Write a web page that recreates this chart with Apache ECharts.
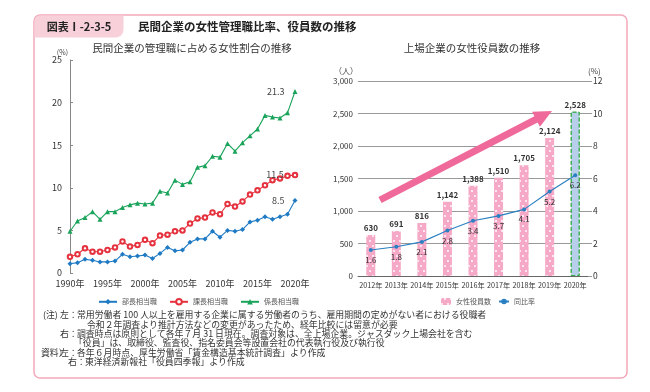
<!DOCTYPE html>
<html><head><meta charset="utf-8">
<script src="https://cdn.jsdelivr.net/npm/echarts@6/dist/echarts.min.js"></script>
<style>html,body{margin:0;padding:0;background:#fff}#c{width:650px;height:392px}</style>
</head><body><div id="c"></div>
<script>
const years = [];
for (let y = 1990; y <= 2020; y++) years.push(y + '年');
const bucho = [1.1,1.2,1.6,1.5,1.3,1.3,1.4,2.2,1.9,2.0,2.1,1.7,2.3,3.0,2.6,2.7,3.6,4.0,4.0,4.9,4.2,5.0,4.9,5.1,6.0,6.2,6.6,6.3,6.6,6.9,8.5];
const kacho = [1.9,2.2,2.9,2.5,2.5,2.7,3.0,3.7,3.1,3.3,3.9,3.5,4.4,4.5,4.9,5.0,5.8,6.4,6.5,7.1,6.9,8.1,7.8,8.4,9.2,9.7,10.3,10.9,11.1,11.4,11.5];
const kakaricho = [4.9,6.1,6.5,7.2,6.3,7.2,7.2,7.7,8.0,8.2,8.1,8.2,9.6,9.4,10.9,10.4,10.7,12.4,12.6,13.7,13.6,15.2,14.3,15.3,16.1,16.9,18.5,18.3,18.2,18.8,21.3];
const rYears = ['2012年','2013年','2014年','2015年','2016年','2017年','2018年','2019年','2020年'];
const yakuin = [630,691,816,1142,1388,1510,1705,2124,2528];
const hiritsu = [1.6,1.8,2.1,2.8,3.4,3.7,4.1,5.2,6.2];
const noteHead = ['(注)', '', '', '', '資料）', ''];
const noteSide = ['左：', '', '右：', '', '左：', '右：'];
const noteBody = [
  '常用労働者 100 人以上を雇用する企業に属する労働者のうち、雇用期間の定めがない者における役職者',
  '令和２年調査より推計方法などの変更があったため、経年比較には留意が必要',
  '調査時点は原則として各年７月 31 日現在。調査対象は、全上場企業。ジャスダック上場会社を含む',
  '「役員」は、取締役、監査役、指名委員会等設置会社の代表執行役及び執行役',
  '各年６月時点、厚生労働省「賃金構造基本統計調査」より作成',
  '東洋経済新報社「役員四季報」より作成'
];

const JP = '"Noto Sans CJK JP", "Noto Sans", sans-serif';
const NUM = '"Noto Sans CJK JP", sans-serif';
const fmt = v => String(v).replace(/\B(?=(\d{3})+(?!\d))/g, ',');
const lastOnly = (n) => p => p.dataIndex === n - 1 ? String(p.value) : '';

// arrow geometry (decoration)
function arrow(x1, y1, x2, y2, w, hw, hl) {
  const dx = x2 - x1, dy = y2 - y1, L = Math.hypot(dx, dy);
  const ux = dx / L, uy = dy / L, nx = -uy, ny = ux;
  const bx = x2 - ux * hl, by = y2 - uy * hl;
  return [
    [x1 + nx * w / 2, y1 + ny * w / 2], [bx + nx * w / 2, by + ny * w / 2],
    [bx + nx * hw / 2, by + ny * hw / 2], [x2, y2],
    [bx - nx * hw / 2, by - ny * hw / 2], [bx - nx * w / 2, by - ny * w / 2],
    [x1 - nx * w / 2, y1 - ny * w / 2]
  ];
}

const graphics = [
  {type:'rect', shape:{x:34, y:15, width:593, height:363, r:6}, style:{fill:'none', stroke:'#f3a9ba', lineWidth:1.5}, z:-1},
  {type:'rect', shape:{x:34.5, y:15.5, width:89, height:22, r:[5,0,8,0]}, style:{fill:'#f8d0da'}},
  {type:'text', x:79, y:27, style:{text:'図表Ⅰ-2-3-5', font:'bold 11px ' + JP, fill:'#222', textAlign:'center', textVerticalAlign:'middle'}},
  {type:'text', x:138, y:27, style:{text:'民間企業の女性管理職比率、役員数の推移', font:'bold 11.5px ' + JP, fill:'#222', textVerticalAlign:'middle'}},
  {type:'text', x:192, y:48, style:{text:'民間企業の管理職に占める女性割合の推移', font:'10.5px ' + JP, fill:'#333', textAlign:'center', textVerticalAlign:'middle'}},
  {type:'text', x:472, y:48, style:{text:'上場企業の女性役員数の推移', font:'10.5px ' + JP, fill:'#333', textAlign:'center', textVerticalAlign:'middle'}},
  {type:'polygon', shape:{points: arrow(380, 200, 552, 111, 7, 17, 18)}, style:{fill:'#ef6a9a'}, z:10}
];
const headX = [43, 0, 0, 0, 41, 0];
const sideX = [60, 0, 60, 0, 60, 68];
const bodyX = [77, 87, 77, 74, 77, 85];
const noteFont = '8.9px ' + JP;
noteBody.forEach((t, i) => {
  const y = 315 + i * 9.3;
  if (noteHead[i]) graphics.push({type:'text', x:headX[i], y:y, style:{text:noteHead[i], font:noteFont, fill:'#333', textVerticalAlign:'middle'}});
  if (noteSide[i]) graphics.push({type:'text', x:sideX[i], y:y, style:{text:noteSide[i], font:noteFont, fill:'#333', textVerticalAlign:'middle'}});
  graphics.push({type:'text', x:bodyX[i], y:y, style:{text:t, font:noteFont, fill:'#333', textVerticalAlign:'middle'}});
});

const noDecal = {symbol:'rect', symbolSize:0, color:'rgba(0,0,0,0)'};
const legText = {fontSize:7, color:'#555', fontFamily:JP};

const chart = echarts.init(document.getElementById('c'));
chart.setOption({
  animation:false,
  textStyle:{fontFamily:JP},
  graphic: graphics,
  legend:[
    {data:['部長相当職','課長相当職','係長相当職'], left:93, top:293, itemWidth:18, itemHeight:7, itemGap:12, textStyle:legText},
    {data:['女性役員数','同比率'], left:436, top:293, itemWidth:10, itemHeight:7, itemGap:7, textStyle:legText}
  ],
  grid:[
    {left:70, right:355, top:60, bottom:119},
    {left:358, right:62, top:81, bottom:116}
  ],
  xAxis:[
    {gridIndex:0, type:'category', data:years, boundaryGap:false,
     axisLine:{show:false}, axisTick:{show:false},
     axisLabel:{interval:4, fontSize:9, color:'#333', margin:6, fontFamily:JP}},
    {gridIndex:1, type:'category', data:rYears,
     axisLine:{show:true, lineStyle:{color:'#666'}}, axisTick:{show:false},
     axisLabel:{interval:0, fontSize:7.2, color:'#333', margin:6, fontFamily:NUM}}
  ],
  yAxis:[
    {gridIndex:0, type:'value', min:0, max:25, interval:5, name:'(%)', nameGap:4,
     nameTextStyle:{fontSize:7, color:'#444', align:'right', padding:[0,2,0,0]},
     axisLine:{show:true, lineStyle:{color:'#888'}}, axisTick:{show:true, inside:true, length:3, lineStyle:{color:'#888'}},
     splitLine:{show:false}, axisLabel:{fontSize:9, color:'#333', margin:8, fontFamily:NUM}},
    {gridIndex:1, type:'value', min:0, max:3000, interval:500, name:'（人）', nameGap:6,
     nameTextStyle:{fontSize:8, color:'#444', align:'right', padding:[0,0,0,0]},
     axisLine:{show:false}, axisTick:{show:false},
     splitLine:{show:true, lineStyle:{color:'#999', width:1}},
     axisLabel:{fontSize:8, color:'#333', margin:5, fontFamily:NUM, formatter:v => fmt(v)}},
    {gridIndex:1, type:'value', min:0, max:12, interval:2, name:'(%)', nameGap:6, position:'right',
     nameTextStyle:{fontSize:8, color:'#444', align:'left'},
     axisLine:{show:false}, axisTick:{show:true, length:4, lineStyle:{color:'#999'}},
     splitLine:{show:false},
     axisLabel:{fontSize:8.5, color:'#333', margin:5, fontFamily:NUM}}
  ],
  series:[
    {name:'部長相当職', type:'line', xAxisIndex:0, yAxisIndex:0, data:bucho, showAllSymbol:true,
     symbol:'diamond', symbolSize:5, lineStyle:{color:'#1f7ac4', width:1.1}, itemStyle:{color:'#1f7ac4'},
     label:{show:true, position:'left', distance:8, fontSize:9, color:'#444', fontFamily:NUM, formatter:lastOnly(bucho.length)}},
    {name:'課長相当職', type:'line', xAxisIndex:0, yAxisIndex:0, data:kacho, showAllSymbol:true,
     symbol:'emptyCircle', symbolSize:4.5, lineStyle:{color:'#e5323e', width:1.1}, itemStyle:{color:'#e5323e', borderWidth:1},
     label:{show:true, position:'left', distance:8, fontSize:9, color:'#444', fontFamily:NUM, formatter:lastOnly(kacho.length)}},
    {name:'係長相当職', type:'line', xAxisIndex:0, yAxisIndex:0, data:kakaricho, showAllSymbol:true,
     symbol:'triangle', symbolSize:5, lineStyle:{color:'#1aa35a', width:1.1}, itemStyle:{color:'#1aa35a'},
     label:{show:true, position:'left', distance:8, fontSize:9, color:'#444', fontFamily:NUM, formatter:lastOnly(kakaricho.length)}},
    {name:'女性役員数', type:'bar', xAxisIndex:1, yAxisIndex:1, barWidth:9,
     data: yakuin.map((v, i) => i === yakuin.length - 1
        ? {value:v, itemStyle:{color:'#b7cfea', borderColor:'#3aae4e', borderWidth:1, borderType:'dashed', decal:noDecal}}
        : v),
     itemStyle:{color:'#f6a9c6', decal:{symbol:'circle', symbolSize:1, color:'rgba(255,255,255,0.95)', dashArrayX:[[1.4,3.2],[0,2.3,1.4,0.9]], dashArrayY:[1.4,2.6], rotation:0}},
     label:{show:true, position:'top', distance:3, fontSize:8, fontWeight:'bold', color:'#333', fontFamily:NUM, formatter:p => fmt(p.value)}},
    {name:'同比率', type:'line', xAxisIndex:1, yAxisIndex:2, data:hiritsu, z:5,
     symbol:'circle', symbolSize:4, lineStyle:{color:'#2a80c2', width:1.2}, itemStyle:{color:'#2a80c2'},
     label:{show:true, position:'bottom', distance:4, fontSize:8, color:'#333', fontFamily:NUM}}
  ]
});
</script></body></html>
